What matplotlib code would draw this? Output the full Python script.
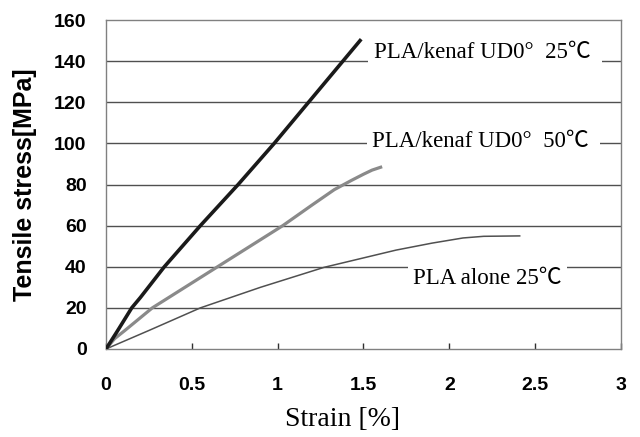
import numpy as np
import matplotlib.pyplot as plt

# stress-strain curves
strain_25 = [0, 0.067, 0.15, 0.20, 0.34, 0.55, 0.77, 0.98, 1.18, 1.38, 1.48]
stress_25 = [0, 8.8, 20, 25, 40, 60, 80, 100, 120, 140, 150]

strain_50 = [0, 0.05, 0.11, 0.27, 0.46, 0.65, 0.84, 1.03, 1.20, 1.33, 1.43, 1.50, 1.55, 1.60]
stress_50 = [0, 5, 9, 20, 30, 40, 50, 60, 70, 77.5, 82, 85, 87, 88.4]

strain_pla = [0, 0.25, 0.55, 0.9, 1.27, 1.5, 1.69, 1.9, 2.08, 2.2, 2.41]
stress_pla = [0, 9, 20, 30, 39.7, 44.3, 48.1, 51.5, 54, 54.8, 55]

xticks = [0, 0.5, 1, 1.5, 2, 2.5, 3]
yticks = [0, 20, 40, 60, 80, 100, 120, 140, 160]

labels = ["PLA/kenaf UD0°  25℃ ", "PLA/kenaf UD0°  50℃ ", "PLA alone 25℃"]
label_pos = [(1.56, 144), (1.55, 101), (1.79, 34.5)]

serif = ['Liberation Serif', 'Noto Sans CJK JP', 'DejaVu Sans']
sans = ['Liberation Sans', 'DejaVu Sans']

fig = plt.figure(figsize=(6.4, 4.37), dpi=100)
ax = fig.add_axes([0.1656, 0.2014, 0.8047, 0.7528])

for y in yticks[1:-1]:
    ax.axhline(y, color='#505050', lw=1.0, zorder=1)

ax.plot(strain_pla, stress_pla, color='#505050', lw=1.1, zorder=3)
ax.plot(strain_50, stress_50, color='#8a8a8a', lw=2.3, zorder=3)
ax.plot(strain_25, stress_25, color='#1a1a1a', lw=2.6, zorder=4)

for txt, (x, y) in zip(labels, label_pos):
    ax.text(x, y, txt, family=serif, fontsize=16.5, va='center', ha='left',
            zorder=5, bbox=dict(facecolor='white', edgecolor='none', pad=4))

ax.set_xlim(0, 3)
ax.set_ylim(0, 160)
ax.set_xticks(xticks)
ax.set_xticklabels([f"{v:g}" for v in xticks], family=sans, fontweight='bold', fontsize=14)
ax.set_yticks(yticks)
ax.set_yticklabels([str(v) for v in yticks], family=sans, fontweight='bold', fontsize=14)
ax.tick_params(axis='x', direction='in', length=4, width=1, color='#303030', pad=20)
ax.tick_params(axis='y', length=0, pad=14)

for s in ax.spines.values():
    s.set_color('#808080')
    s.set_linewidth(1)

ax.set_ylabel("Tensile stress[MPa]", family=sans, fontweight='bold', fontsize=18, va='center')
ax.yaxis.set_label_coords(-0.157, 0.5)
ax.set_xlabel("Strain [%]", family=serif, fontsize=20, va='top')
ax.xaxis.set_label_coords(0.459, -0.175)

fig.savefig("out.png", dpi=100)
